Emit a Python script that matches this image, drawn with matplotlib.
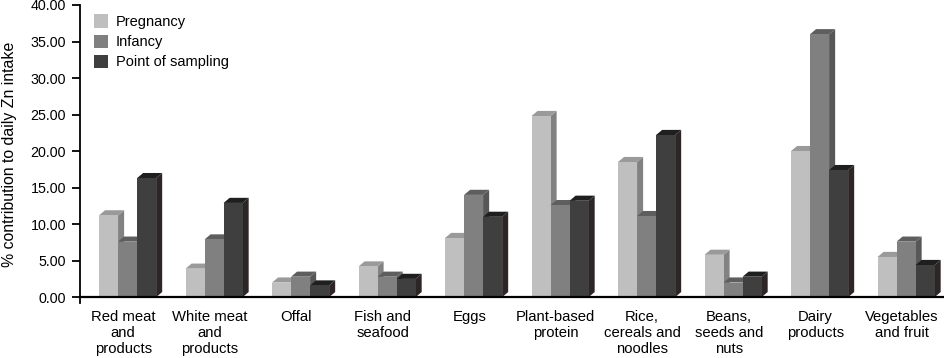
import numpy as np
import matplotlib
matplotlib.use("Agg")
import matplotlib.pyplot as plt
from matplotlib.patches import Polygon

plt.rcParams['font.family'] = ['Liberation Sans', 'DejaVu Sans']

# categories and values (% contribution to daily Zn intake)
categories = ["Red meat\nand\nproducts", "White meat\nand\nproducts", "Offal",
              "Fish and\nseafood", "Eggs", "Plant-based\nprotein",
              "Rice,\ncereals and\nnoodles", "Beans,\nseeds and\nnuts",
              "Dairy\nproducts", "Vegetables\nand fruit"]
series = ["Pregnancy", "Infancy", "Point of sampling"]
pregnancy = [11.2, 3.9, 2.0, 4.2, 8.1, 24.8, 18.5, 5.8, 20.0, 5.5]
infancy = [7.6, 7.9, 2.8, 2.8, 14.0, 12.6, 11.1, 2.0, 36.0, 7.6]
sampling = [16.3, 12.9, 1.6, 2.5, 11.0, 13.2, 22.2, 2.8, 17.4, 4.4]
yticks = [0, 5, 10, 15, 20, 25, 30, 35, 40]

# front, top, side colours
front = ["#bfbfbf", "#808080", "#3f3f3f"]
top = ["#9a9a9a", "#5e5e5e", "#1f1f1f"]
side = ["#828282", "#575757", "#2e2626"]

fig = plt.figure(figsize=(9.45, 3.58), dpi=100)
ax = fig.add_axes([80/945, 55/358, 865/945, 298/358])

x = np.arange(len(categories))
w = 0.22
dx = 0.07
dy = 0.7
data = [pregnancy, infancy, sampling]
for i in range(len(categories)):
    for k in range(3):
        x0 = i - 0.28 + k*w
        h = data[k][i]
        z = 2 + i*10 + k*3
        ax.add_patch(Polygon([(x0+w, 0), (x0+w+dx, dy), (x0+w+dx, h+dy), (x0+w, h)],
                             closed=True, facecolor=side[k], edgecolor='none', zorder=z))
        ax.add_patch(Polygon([(x0, h), (x0+dx, h+dy), (x0+w+dx, h+dy), (x0+w, h)],
                             closed=True, facecolor=top[k], edgecolor='none', zorder=z+1))
        ax.bar(x0, h, w, align='edge', color=front[k], zorder=z+2,
               label=series[k] if i == 0 else None)

ax.set_xlim(-0.5, 9.5)
ax.set_ylim(-0.8, 40)
ax.spines['bottom'].set_position(('data', 0))
ax.spines['top'].set_visible(False)
ax.spines['right'].set_visible(False)
ax.spines['left'].set_linewidth(1.3)
ax.spines['bottom'].set_linewidth(1.6)
ax.spines['bottom'].set_zorder(200)
ax.set_yticks(yticks)
ax.set_yticklabels(["%.2f" % v for v in yticks], fontsize=10.3)
ax.tick_params(axis='y', length=6, width=1.3, pad=4)
ax.set_xticks(x)
ax.set_xticklabels(categories, fontsize=10.7, linespacing=1.22)
ax.tick_params(axis='x', length=0, pad=9)
ax.set_ylabel("% contribution to daily Zn intake", fontsize=11.4, labelpad=10)

ax.legend(loc='upper left', bbox_to_anchor=(0.005, 1.0), frameon=False, fontsize=10.5,
          handlelength=1.0, handleheight=1.0, handletextpad=0.5, labelspacing=0.38,
          borderaxespad=0.25)

fig.savefig("out.png", dpi=100)
